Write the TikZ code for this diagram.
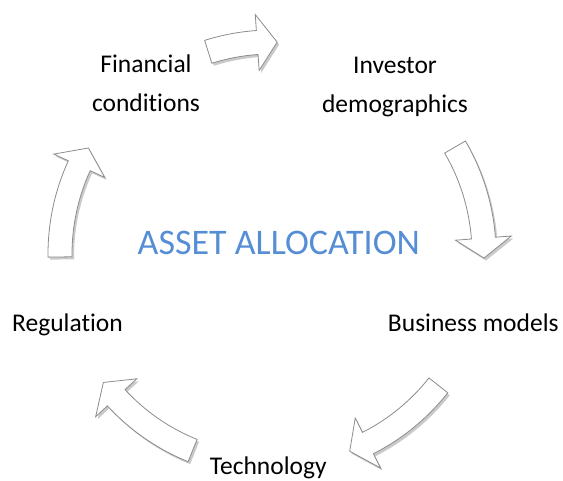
\documentclass[tikz,border=0pt]{standalone}
\usepackage{fontspec}
\setmainfont[Ligatures=NoCommon]{Carlito}
\usetikzlibrary{shadows}
\definecolor{titleblue}{RGB}{85,142,213}
\definecolor{arrowline}{RGB}{140,140,140}

\begin{document}
\begin{tikzpicture}[x=1pt, y=1pt,
  cycarrow/.style={fill=white, draw=arrowline, line width=0.8pt, line join=miter,
    drop shadow={shadow xshift=2pt, shadow yshift=-2.5pt, opacity=0.35, fill=black!60}},
  cyctext/.style={font=\fontsize{25.5}{39.4}\selectfont, align=center, inner sep=0pt}]
  \useasboundingbox (0,0) rectangle (563,480);
  \coordinate (c) at (272,226);

  \node[font=\fontsize{36}{43}\selectfont, text=titleblue, anchor=base, inner sep=0pt] (title) at (278.8,225) {ASSET ALLOCATION};

  \node[cyctext] (fin) at (146,396.8) {Financial\\conditions};
  \node[cyctext] (inv) at (395,393) {Investor\\demographics};
  \node[cyctext, anchor=base] (bus) at (473.3,148.3) {Business models};
  \node[cyctext, anchor=base] (tech) at (268.3,5.5) {Technology};
  \node[cyctext, anchor=base] (reg) at (67.5,148.3) {Regulation};

  % cycle arrows, clockwise round (c)
  \filldraw[cycarrow, shift={(c)}] (107.5:224) arc[start angle=107.5, end angle=94, radius=224] -- (94:240) -- (88.6:212) -- (94:184) -- (94:200) arc[start angle=94, end angle=107.5, radius=200] -- cycle;
  \filldraw[cycarrow, shift={(c)}] (30.3:224) arc[start angle=30.3, end angle=4.3, radius=224] -- (4.3:240) -- (-1.1:212) -- (4.3:184) -- (4.3:200) arc[start angle=4.3, end angle=30.3, radius=200] -- cycle;
  \filldraw[cycarrow, shift={(c)}] (-38.3:224) arc[start angle=-38.3, end angle=-63.1, radius=224] -- (-63.1:240) -- (-68.5:212) -- (-63.1:184) -- (-63.1:200) arc[start angle=-63.1, end angle=-38.3, radius=200] -- cycle;
  \filldraw[cycarrow, shift={(c)}] (-112:224) arc[start angle=-112, end angle=-137.3, radius=224] -- (-137.3:240) -- (-142.7:212) -- (-137.3:184) -- (-137.3:200) arc[start angle=-137.3, end angle=-112, radius=200] -- cycle;
  \filldraw[cycarrow, shift={(c)}] (180.8:224) arc[start angle=180.8, end angle=155.4, radius=224] -- (155.4:240) -- (150:212) -- (155.4:184) -- (155.4:200) arc[start angle=155.4, end angle=180.8, radius=200] -- cycle;
\end{tikzpicture}
\end{document}
